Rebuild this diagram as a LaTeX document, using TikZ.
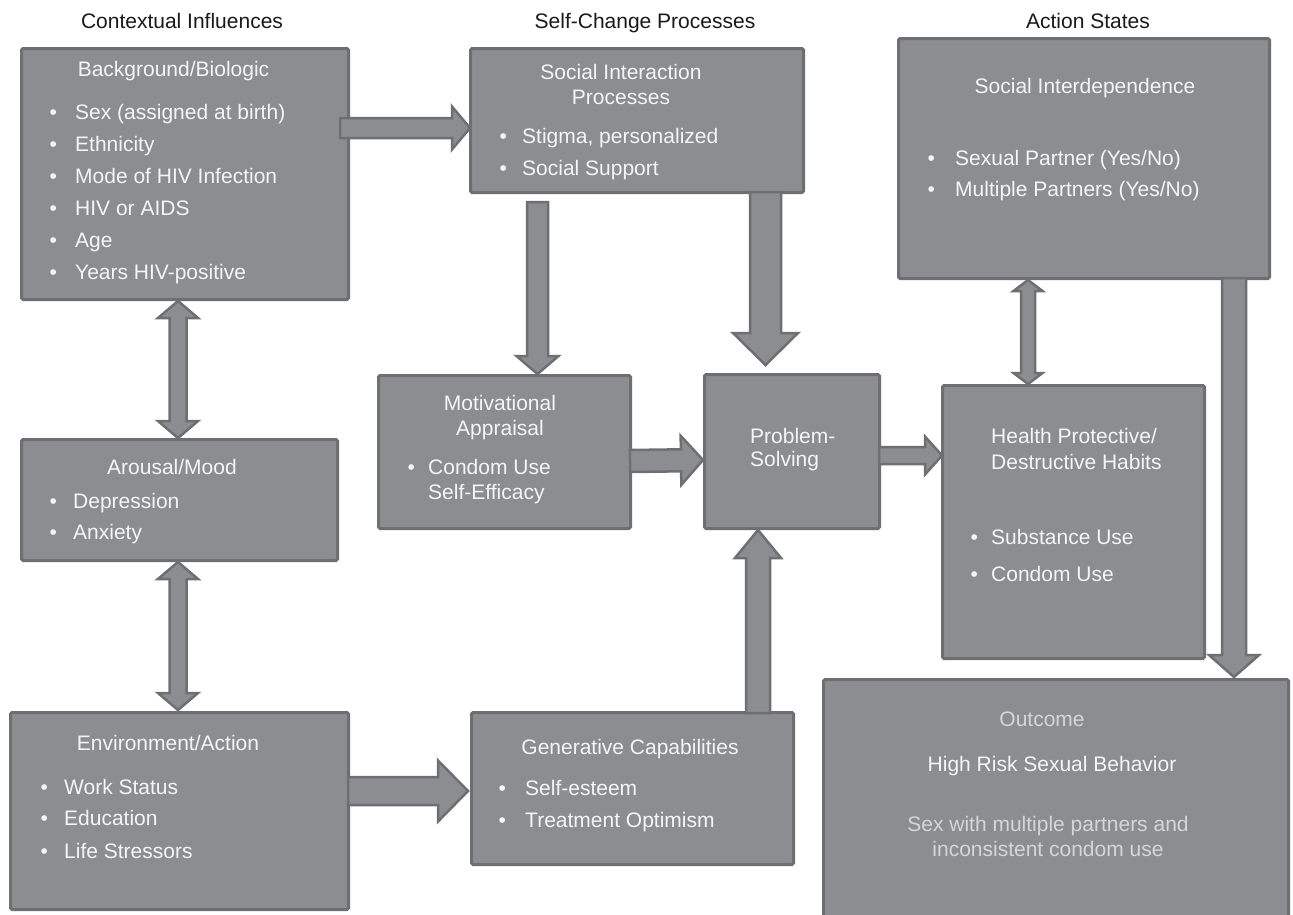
\documentclass[tikz,border=0pt]{standalone}
\usepackage{fontspec}
\setmainfont{Liberation Sans}
\usetikzlibrary{calc}
\definecolor{boxfill}{HTML}{8C8D91}
\definecolor{boxline}{HTML}{6E6F73}
\definecolor{txtw}{HTML}{F5F5F5}
\definecolor{txtl}{HTML}{D6D6D6}
\definecolor{hdrc}{HTML}{1A1A1A}
\tikzset{
  box/.style={draw=boxline, fill=boxfill, line width=3pt, rounded corners=1.5pt, inner sep=0pt, anchor=north west},
  arr/.style={draw=boxline, fill=boxfill, line width=2.5pt, line join=miter},
  ttl/.style={text=txtw, font=\fontsize{21pt}{25pt}\selectfont, inner sep=0pt, anchor=base},
  itm/.style={text=txtw, font=\fontsize{21pt}{25pt}\selectfont, inner sep=0pt, anchor=base west},
  lite/.style={text=txtl, font=\fontsize{21pt}{25pt}\selectfont, inner sep=0pt, anchor=base},
  hdr/.style={text=hdrc, font=\fontsize{21pt}{25pt}\selectfont, inner sep=0pt, anchor=base},
}
\newcommand\bul[1]{\llap{\textbullet\hspace{#1pt}}}
% single block arrow: from #1 to #2, half shaft #3, half head #4, head length #5
\newcommand\sarrow[5]{%
\draw[arr] let \p1=(#1), \p2=(#2), \n1={veclen(\x2-\x1,\y2-\y1)}, \n2={(\x2-\x1)/\n1}, \n3={(\y2-\y1)/\n1}, \n4={\n1-#5} in
 ({\x1-(#3)*\n3},{\y1+(#3)*\n2}) --
 ({\x1+\n4*\n2-(#3)*\n3},{\y1+\n4*\n3+(#3)*\n2}) --
 ({\x1+\n4*\n2-(#4)*\n3},{\y1+\n4*\n3+(#4)*\n2}) --
 (\x2,\y2) --
 ({\x1+\n4*\n2+(#4)*\n3},{\y1+\n4*\n3-(#4)*\n2}) --
 ({\x1+\n4*\n2+(#3)*\n3},{\y1+\n4*\n3-(#3)*\n2}) --
 ({\x1+(#3)*\n3},{\y1-(#3)*\n2}) -- cycle;}
% double block arrow
\newcommand\darrow[5]{%
\draw[arr] let \p1=(#1), \p2=(#2), \n1={veclen(\x2-\x1,\y2-\y1)}, \n2={(\x2-\x1)/\n1}, \n3={(\y2-\y1)/\n1}, \n4={\n1-#5} in
 (\x1,\y1) --
 ({\x1+(#5)*\n2-(#4)*\n3},{\y1+(#5)*\n3+(#4)*\n2}) --
 ({\x1+(#5)*\n2-(#3)*\n3},{\y1+(#5)*\n3+(#3)*\n2}) --
 ({\x1+\n4*\n2-(#3)*\n3},{\y1+\n4*\n3+(#3)*\n2}) --
 ({\x1+\n4*\n2-(#4)*\n3},{\y1+\n4*\n3+(#4)*\n2}) --
 (\x2,\y2) --
 ({\x1+\n4*\n2+(#4)*\n3},{\y1+\n4*\n3-(#4)*\n2}) --
 ({\x1+\n4*\n2+(#3)*\n3},{\y1+\n4*\n3-(#3)*\n2}) --
 ({\x1+(#5)*\n2+(#3)*\n3},{\y1+(#5)*\n3-(#3)*\n2}) --
 ({\x1+(#5)*\n2+(#4)*\n3},{\y1+(#5)*\n3-(#4)*\n2}) -- cycle;}
\begin{document}
\begin{tikzpicture}[x=1pt, y=-1pt]
\useasboundingbox (0,0) rectangle (1293,914);
\fill[white] (0,0) rectangle (1293,914);
\clip (0,0) rectangle (1293,914);

% headers
\node[hdr] (h1) at (182,28) {Contextual Influences};
\node[hdr] (h2) at (645,28) {Self-Change Processes};
\node[hdr] (h3) at (1088,28) {Action States};

% boxes
\node[box, minimum width=327pt, minimum height=251pt] (bg) at (20,47) {};
\node[box, minimum width=333pt, minimum height=144pt] (si) at (469,47) {};
\node[box, minimum width=371pt, minimum height=240pt] (sd) at (897,37) {};
\node[box, minimum width=316pt, minimum height=121pt] (am) at (20,438) {};
\node[box, minimum width=252pt, minimum height=153pt] (ma) at (377,374) {};
\node[box, minimum width=175pt, minimum height=154pt] (ps) at (703,373) {};
\node[box, minimum width=262pt, minimum height=273pt] (hp) at (941,384) {};
\node[box, minimum width=338pt, minimum height=197pt] (ea) at (9,711) {};
\node[box, minimum width=322pt, minimum height=152pt] (gc) at (470,711) {};
\node[box, minimum width=465pt, minimum height=250pt] (oc) at (822,678) {};

% arrows
\sarrow{$(bg.north east)+(-10,81)$}{$(si.north west)+(1,81)$}{10}{21.5}{18}
\sarrow{$(si.south west)+(68.5,8)$}{$(ma.north west)+(160.5,0)$}{10.5}{21}{18}
\sarrow{$(si.south west)+(296.5,-2)$}{$(ps.north west)+(62.5,-8)$}{15.5}{32.5}{32}
\sarrow{$(ma.north east)+(-2,87)$}{$(ps.north west)+(0,87)$}{11}{24.5}{22}
\sarrow{$(ps.north east)+(-2,82.5)$}{$(hp.north west)+(1,71.5)$}{8.5}{19}{17}
\sarrow{$(gc.north west)+(288,2)$}{$(ps.south west)+(55,0)$}{12}{23}{28}
\sarrow{$(ea.north east)+(-2,80)$}{$(gc.north west)+(-2,80)$}{14}{30.5}{30}
\sarrow{$(sd.south west)+(337,-2)$}{$(oc.north west)+(412,-1)$}{12}{25}{22}
\darrow{$(bg.south west)+(158,0)$}{$(am.north west)+(158,0)$}{8.5}{20}{17}
\darrow{$(am.south west)+(158,0)$}{$(ea.north west)+(169,-1)$}{8.5}{20}{17}
\darrow{$(sd.south west)+(131,0)$}{$(hp.north west)+(87,0)$}{7}{14.5}{11}

% Background/Biologic
\node[ttl] (bgt) at (173.5,76) {Background/Biologic};
\foreach \t [count=\i] in {{Sex (assigned at birth)},Ethnicity,{Mode of HIV Infection},{HIV or AIDS},Age,{Years HIV-positive}}
  \node[itm] (bgi\i) at (75,{119+(\i-1)*32}) {\bul{18.3}\t};

% Social Interaction Processes
\node[ttl] (sit1) at (621,79) {Social Interaction};
\node[ttl] (sit2) at (621,104) {Processes};
\node[itm] (sii1) at (522,143) {\bul{15.3}Stigma, personalized};
\node[itm] (sii2) at (522,175) {\bul{15.3}Social Support};

% Social Interdependence
\node[ttl] (sdt) at (1085,93) {Social Interdependence};
\node[itm] (sdi1) at (955,165) {\bul{20.3}Sexual Partner (Yes/No)};
\node[itm] (sdi2) at (955,196) {\bul{20.3}Multiple Partners (Yes/No)};

% Arousal/Mood
\node[ttl] (amt) at (172,474) {Arousal/Mood};
\node[itm] (ami1) at (73,508) {\bul{16.3}Depression};
\node[itm] (ami2) at (73,539) {\bul{16.3}Anxiety};

% Motivational Appraisal
\node[ttl] (mat1) at (500,410) {Motivational};
\node[ttl] (mat2) at (500,435) {Appraisal};
\node[itm] (mai1) at (428,474) {\bul{13.3}Condom Use};
\node[itm] (mai2) at (428,499) {Self-Efficacy};

% Problem-Solving
\node[itm] (pst1) at (750,443) {Problem-};
\node[itm] (pst2) at (750,466) {Solving};

% Health Protective
\node[itm] (hpt1) at (991,443) {Health Protective/};
\node[itm] (hpt2) at (991,469) {Destructive Habits};
\node[itm] (hpi1) at (991,544) {\bul{13.3}Substance Use};
\node[itm] (hpi2) at (991,581) {\bul{13.3}Condom Use};

% Environment/Action
\node[ttl] (eat) at (168,750) {Environment/Action};
\node[itm] (eai1) at (64,794) {\bul{16.3}Work Status};
\node[itm] (eai2) at (64,825) {\bul{16.3}Education};
\node[itm] (eai3) at (64,858) {\bul{16.3}Life Stressors};

% Generative Capabilities
\node[ttl] (gct) at (630,754) {Generative Capabilities};
\node[itm] (gci1) at (525,795) {\bul{19.3}Self-esteem};
\node[itm] (gci2) at (525,827) {\bul{19.3}Treatment Optimism};

% Outcome
\node[lite] (oct) at (1042,726) {Outcome};
\node[ttl] (ocm) at (1052,771) {High Risk Sexual Behavior};
\node[lite] (ocd1) at (1048,831) {Sex with multiple partners and};
\node[lite] (ocd2) at (1048,856) {inconsistent condom use};
\end{tikzpicture}
\end{document}
